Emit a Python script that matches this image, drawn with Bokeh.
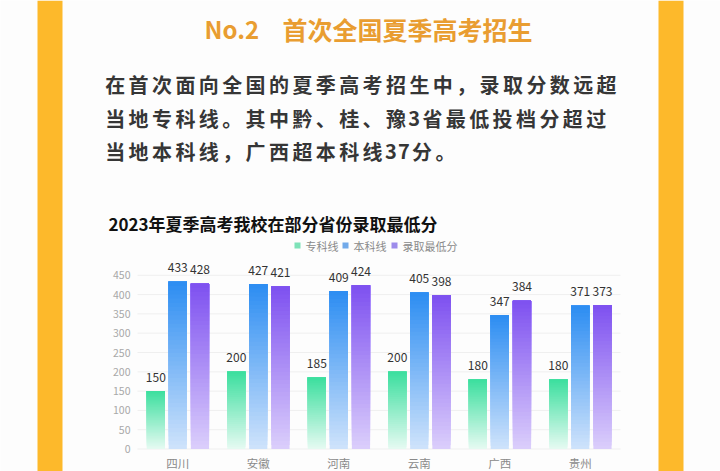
import numpy as np
from bokeh.plotting import figure
from bokeh.models import Range1d
from bokeh.core.properties import value
from bokeh.embed import file_html
from bokeh.resources import INLINE

# ---------------- data ----------------
provinces = ["四川", "安徽", "河南", "云南", "广西", "贵州"]
zhuanke = [150, 200, 185, 200, 180, 180]     # 专科线
benke = [433, 427, 409, 405, 347, 371]       # 本科线
luqu = [428, 421, 424, 398, 384, 373]        # 录取最低分
series_names = ["专科线", "本科线", "录取最低分"]
y_ticks = [0, 50, 100, 150, 200, 250, 300, 350, 400, 450]

heading_no = "No.2"
heading = "首次全国夏季高考招生"
paragraph = [
    "在首次面向全国的夏季高考招生中，录取分数远超",
    "当地专科线。其中黔、桂、豫3省最低投档分超过",
    "当地本科线，广西超本科线37分。",
]
chart_title = "2023年夏季高考我校在部分省份录取最低分"

# ---------------- layout / style ----------------
W, H = 720, 471
FONT = value("Noto Sans CJK SC")
BG = "#fdfdfd"
YELLOW = "#fdb92b"

plot_left, plot_right = 137.0, 620.0
zero_px, px_per_unit = 448.5, 0.386
cat_step = (plot_right - plot_left) / len(provinces)

p = figure(width=W, height=H, output_backend="svg", toolbar_location=None,
           x_range=Range1d(0, W), y_range=Range1d(H, 0),
           x_axis_type=None, y_axis_type=None, min_border=0)
p.grid.visible = False
p.outline_line_color = None
p.background_fill_color = BG
p.border_fill_color = BG

cx0 = (0 - plot_left) / cat_step - 0.5
cx1 = (W - plot_left) / cat_step - 0.5
cy0 = (zero_px - H) / px_per_unit
cy1 = zero_px / px_per_unit
p.extra_x_ranges = {"cx": Range1d(cx0, cx1)}
p.extra_y_ranges = {"cy": Range1d(cy0, cy1)}
R = dict(x_range_name="cx", y_range_name="cy")

# yellow frame bands
p.quad(left=[37, 658], right=[62, 683], top=[0, 0], bottom=[H, H],
       fill_color=YELLOW, line_color=None)

# heading
p.text(x=[204], y=[28], text=[heading_no], text_font=FONT, text_font_style="bold",
       text_font_size="24px", text_color="#e99d31", text_baseline="middle", text_align="left")
p.text(x=[282], y=[28], text=[heading], text_font=FONT, text_font_style="bold",
       text_font_size="25px", text_color="#e99d31", text_baseline="middle", text_align="left")

# paragraph (per-character placement to reproduce the letter spacing)
line_y = [84, 117.5, 151]
full_step, half_step = 23.4, 13.0
cx_list, cy_list, ch_list = [], [], []
for ly, line in zip(line_y, paragraph):
    x = 103.0
    for ch in line:
        step = half_step if ch.isascii() else full_step
        cx_list.append(x + step / 2)
        cy_list.append(ly)
        ch_list.append(ch)
        x += step
p.text(x=cx_list, y=cy_list, text=ch_list, text_font=FONT, text_font_style="bold",
       text_font_size="20px", text_color="#363636", text_baseline="middle", text_align="center")

# chart title
p.text(x=[108], y=[223], text=[chart_title], text_font=FONT, text_font_style="bold",
       text_font_size="17px", text_color="#111111", text_baseline="middle", text_align="left")

# legend
leg_colors = ["#7ee2b8", "#72aaea", "#9d8ceb"]
leg_x = [297, 345, 394]
p.rect(x=leg_x, y=[245] * 3, width=6, height=6, fill_color=leg_colors, line_color=None)
p.text(x=[x + 8 for x in leg_x], y=[245] * 3, text=series_names, text_font=FONT,
       text_font_size="11px", text_color="#8a8a8a", text_baseline="middle", text_align="left")

# gridlines
n = len(provinces)
p.segment(x0=[-0.5] * len(y_ticks), x1=[n - 0.5] * len(y_ticks), y0=y_ticks, y1=y_ticks,
          line_color="#efefef", line_width=1, **R)

# y tick labels
p.text(x=[-0.5] * len(y_ticks), y=y_ticks, text=[str(t) for t in y_ticks], x_offset=-7,
       text_font=FONT, text_font_size="10.5px", text_color="#a8a8a8",
       text_baseline="middle", text_align="right", **R)

# x category labels
p.text(x=list(range(n)), y=[0] * n, text=provinces, y_offset=14, text_font=FONT,
       text_font_size="11.5px", text_color="#8a8a8a", text_baseline="middle",
       text_align="center", **R)

# gradient bars
def hex2rgb(h):
    h = h.lstrip("#")
    return np.array([int(h[i:i + 2], 16) for i in (0, 2, 4)], dtype=float)

series = [zhuanke, benke, luqu]
tops = ["#3ddf9f", "#2e8ef2", "#7f52f0"]
bottoms = ["#e4faf1", "#cde2fb", "#dacdfb"]
offsets = [-0.272, 0.0, 0.276]
bw = 0.226
N = 40
for vals, off, ct, cb in zip(series, offsets, tops, bottoms):
    a, b = hex2rgb(cb), hex2rgb(ct)
    L, Rr, Bm, T, C = [], [], [], [], []
    for k, v in enumerate(vals):
        for i in range(N):
            f = i / (N - 1)
            c = a + (b - a) * f
            L.append(k + off - bw / 2)
            Rr.append(k + off + bw / 2)
            Bm.append(v * i / N)
            T.append(v)
            C.append("#%02x%02x%02x" % tuple(int(round(z)) for z in c))
    p.quad(left=L, right=Rr, bottom=Bm, top=T, fill_color=C, line_color=None, **R)
    # value labels
    p.text(x=[k + off for k in range(n)], y=vals, text=[str(v) for v in vals], y_offset=-14,
           text_font=FONT, text_font_size="12px", text_color="#333333",
           text_baseline="middle", text_align="center", **R)

open("out.html", "w").write(file_html(p, INLINE))
